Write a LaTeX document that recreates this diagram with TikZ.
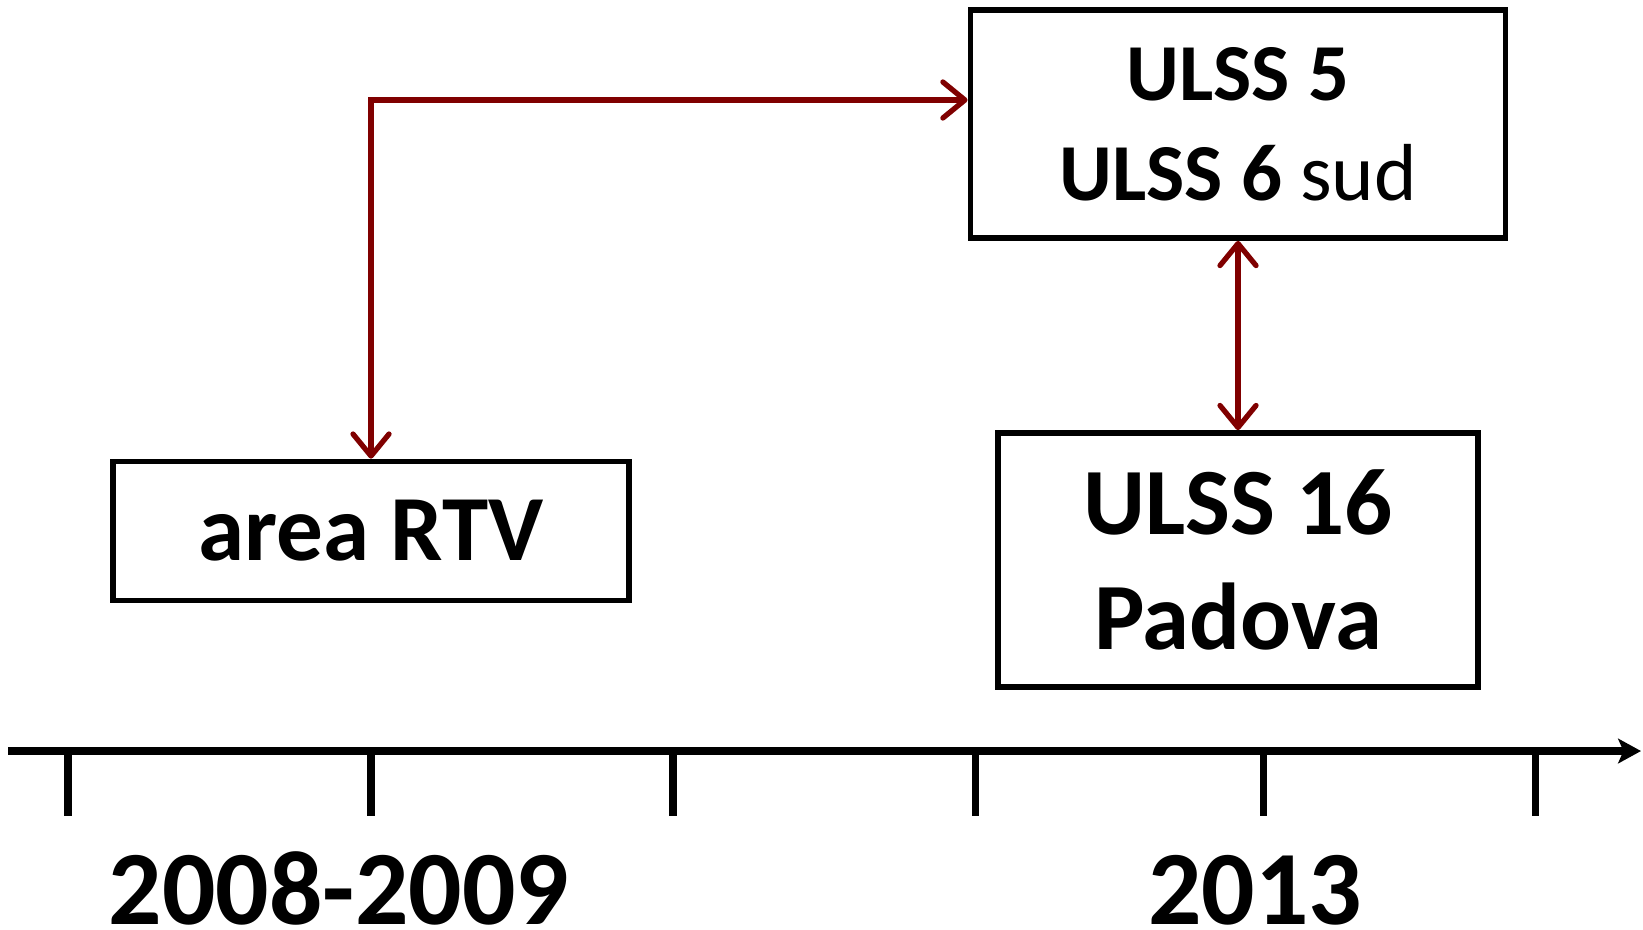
\documentclass[tikz,border=0pt]{standalone}
\usepackage{fontspec}
\setmainfont{Carlito}
\usetikzlibrary{arrows.meta}

\begin{document}
\begin{tikzpicture}[x=0.01cm,y=-0.01cm,line width=1.6pt,
  box/.style={draw,align=center,font=\bfseries},
  link/.style={red!50!black,line width=1.5pt},
  year/.style={font=\fontsize{30}{36}\selectfont\bfseries,anchor=base,inner sep=0pt},
  >={Straight Barb[length=2.2mm,width=3.6mm,round]}]
  \useasboundingbox (0,0) rectangle (1643,929);
  % boxes
  \node[box,minimum width=5.35cm,minimum height=2.28cm,font=\fontsize{23}{28.5}\selectfont\bfseries] (ulss5) at (1238,124) {ULSS 5\\ULSS 6 {\mdseries sud}};
  \node[box,minimum width=5.16cm,minimum height=1.39cm,font=\fontsize{26.5}{32}\selectfont\bfseries] (rtv) at (371,531) {area RTV};
  \node[box,minimum width=4.80cm,minimum height=2.54cm,font=\fontsize{27}{32.7}\selectfont\bfseries] (ulss16) at (1238,560) {ULSS 16\\Padova};
  % links
  \draw[link,<->] (rtv.north) |- ([yshift=0.24cm]ulss5.west);
  \draw[link,<->] (ulss5.south) -- (ulss16.north);
  % time axis
  \coordinate (t0) at (8,751);
  \coordinate (t1) at (1641,751);
  \draw[line width=2.3pt,-{Stealth[length=6.5pt,width=7pt,inset=1.5pt]}] (t0) -- (t1);
  \foreach \x in {68,371,673,975,1263,1535}
    \draw[line width=2pt] (\x,751) -- (\x,816);
  \node[year] (y1) at (339,924) {2008-2009};
  \node[year] (y2) at (1255,924) {2013};
\end{tikzpicture}
\end{document}
